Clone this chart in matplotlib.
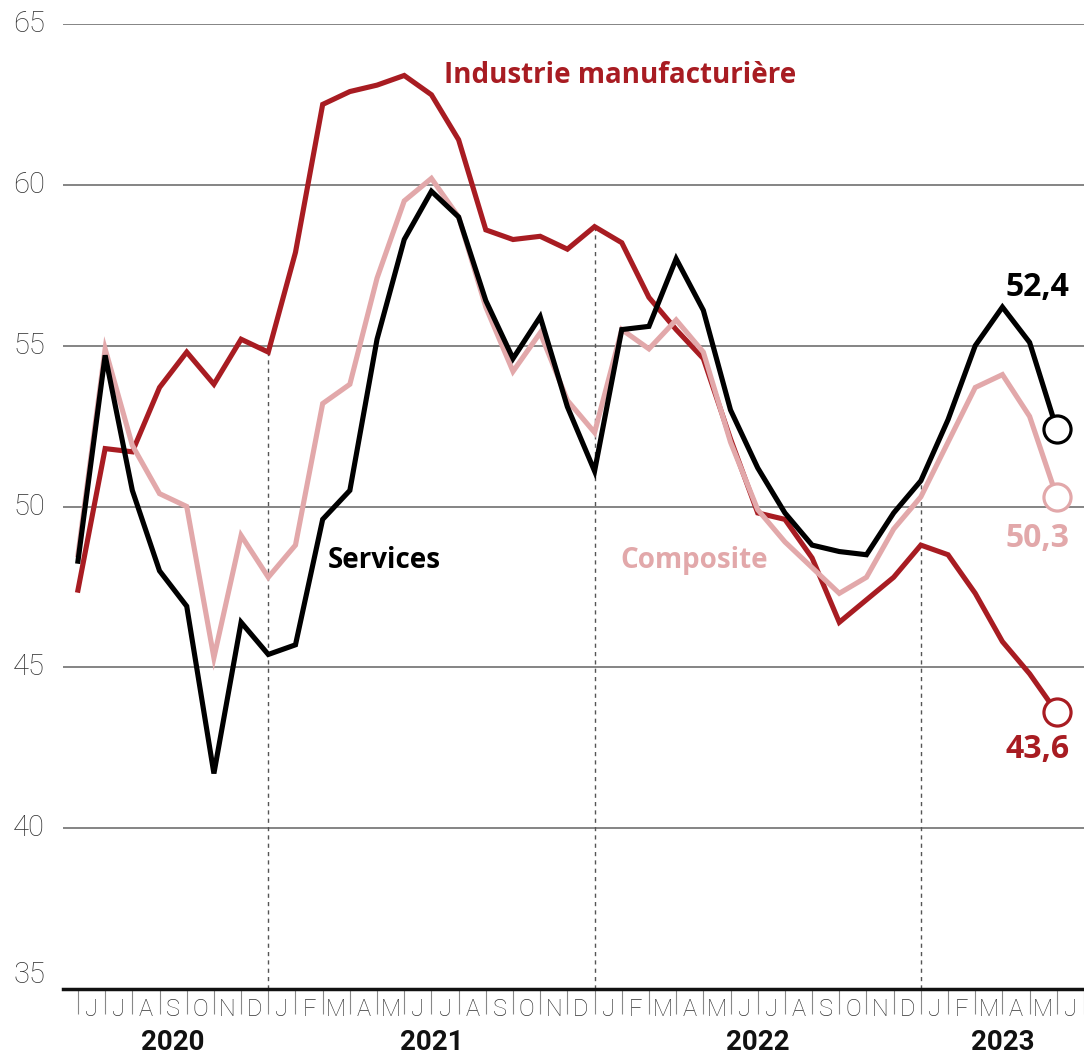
import matplotlib
matplotlib.use("Agg")
import matplotlib.pyplot as plt

# PMI zone euro, juin 2020 -> juin 2023
mois = ['J', 'J', 'A', 'S', 'O', 'N', 'D',
        'J', 'F', 'M', 'A', 'M', 'J', 'J', 'A', 'S', 'O', 'N', 'D',
        'J', 'F', 'M', 'A', 'M', 'J', 'J', 'A', 'S', 'O', 'N', 'D',
        'J', 'F', 'M', 'A', 'M', 'J']
annees = ['2020', '2021', '2022', '2023']
annees_pos = [3.5, 13, 25, 34]
separateurs = [7, 19, 31]

industrie = [47.4, 51.8, 51.7, 53.7, 54.8, 53.8, 55.2,
             54.8, 57.9, 62.5, 62.9, 63.1, 63.4, 62.8, 61.4, 58.6, 58.3, 58.4, 58.0,
             58.7, 58.2, 56.5, 55.5, 54.6, 52.1, 49.8, 49.6, 48.4, 46.4, 47.1, 47.8,
             48.8, 48.5, 47.3, 45.8, 44.8, 43.6]
services = [48.3, 54.7, 50.5, 48.0, 46.9, 41.7, 46.4,
            45.4, 45.7, 49.6, 50.5, 55.2, 58.3, 59.8, 59.0, 56.4, 54.6, 55.9, 53.1,
            51.1, 55.5, 55.6, 57.7, 56.1, 53.0, 51.2, 49.8, 48.8, 48.6, 48.5, 49.8,
            50.8, 52.7, 55.0, 56.2, 55.1, 52.4]
composite = [48.5, 54.9, 51.9, 50.4, 50.0, 45.3, 49.1,
             47.8, 48.8, 53.2, 53.8, 57.1, 59.5, 60.2, 59.0, 56.2, 54.2, 55.4, 53.3,
             52.3, 55.5, 54.9, 55.8, 54.8, 52.0, 49.9, 48.9, 48.1, 47.3, 47.8, 49.3,
             50.3, 52.0, 53.7, 54.1, 52.8, 50.3]

ROUGE = '#a81c22'
ROSE = '#e2a8aa'
NOIR = '#000000'

plt.rcParams['font.family'] = ['Roboto', 'DejaVu Sans']
TITRE = ['Open Sans', 'DejaVu Sans']

W, H = 1084, 1054
fig = plt.figure(figsize=(W / 100, H / 100), dpi=100)
# axes en pixels : gauche 63, haut 24, bas 989
ax = fig.add_axes([63 / W, (H - 989) / H, (W - 63) / W, (989 - 24) / H])

x = list(range(len(mois)))
ax.set_xlim(-0.55, 36.69)
ax.set_ylim(35, 65)

# séparateurs d'années en pointillés
for s in separateurs:
    top = max(industrie[s], services[s], composite[s])
    ax.vlines(s, 35, top, colors='#555555', linestyles=(0, (3, 3)), linewidth=1, zorder=1)

ax.plot(x, industrie, color=ROUGE, linewidth=3.7, solid_joinstyle='miter', zorder=3)
ax.plot(x, composite, color=ROSE, linewidth=3.7, solid_joinstyle='miter', zorder=4)
ax.plot(x, services, color=NOIR, linewidth=3.7, solid_joinstyle='miter', zorder=5)

for serie, c in [(industrie, ROUGE), (composite, ROSE), (services, NOIR)]:
    ax.plot(x[-1], serie[-1], 'o', markersize=19.5, markerfacecolor='white',
            markeredgecolor=c, markeredgewidth=2.3, zorder=6, clip_on=False)

# grille
ax.set_yticks([35, 40, 45, 50, 55, 60, 65])
ax.grid(axis='y', color='#707070', linewidth=1.2)
ax.set_axisbelow(True)
for sp in ['top', 'right', 'left']:
    ax.spines[sp].set_visible(False)
ax.spines['bottom'].set_linewidth(2.5)
ax.spines['bottom'].set_color('#111111')
ax.tick_params(axis='y', length=0, labelsize=21, labelcolor='#333333', pad=13)
for t in ax.get_yticklabels():
    t.set_fontweight('light')
    t.set_verticalalignment('center')
ax.get_yticklabels()[0].set_verticalalignment('bottom')

# mois : ticks aux limites, étiquettes au milieu
ax.set_xticks(range(len(mois) + 1))
ax.set_xticklabels([])
ax.tick_params(axis='x', direction='out', length=18, width=0.8, color='#888888')
for i, m in enumerate(mois):
    ax.text(i + 0.5, 34.16, m, ha='center', va='baseline', fontsize=17,
            fontweight='light', color='#333333', clip_on=False)
for a, p in zip(annees, annees_pos):
    ax.text(p, 33.10, a, ha='center', va='baseline', fontsize=20,
            fontweight='bold', color='#111111', clip_on=False)

# étiquettes des séries
ax.text(13.46, 63.16, 'Industrie manufacturière', color=ROUGE, fontsize=20,
        fontweight='bold', family=TITRE, ha='left', va='baseline')
ax.text(9.19, 48.10, 'Services', color=NOIR, fontsize=20, fontweight='bold',
        family=TITRE, ha='left', va='baseline')
ax.text(19.95, 48.10, 'Composite', color=ROSE, fontsize=20, fontweight='bold',
        family=TITRE, ha='left', va='baseline')
ax.text(36.47, 56.55, '52,4', color=NOIR, fontsize=23, fontweight='bold',
        family=TITRE, ha='right', va='baseline')
ax.text(36.47, 48.75, '50,3', color=ROSE, fontsize=23, fontweight='bold',
        family=TITRE, ha='right', va='baseline')
ax.text(36.47, 42.19, '43,6', color=ROUGE, fontsize=23, fontweight='bold',
        family=TITRE, ha='right', va='baseline')

fig.savefig('out.png', dpi=100)
